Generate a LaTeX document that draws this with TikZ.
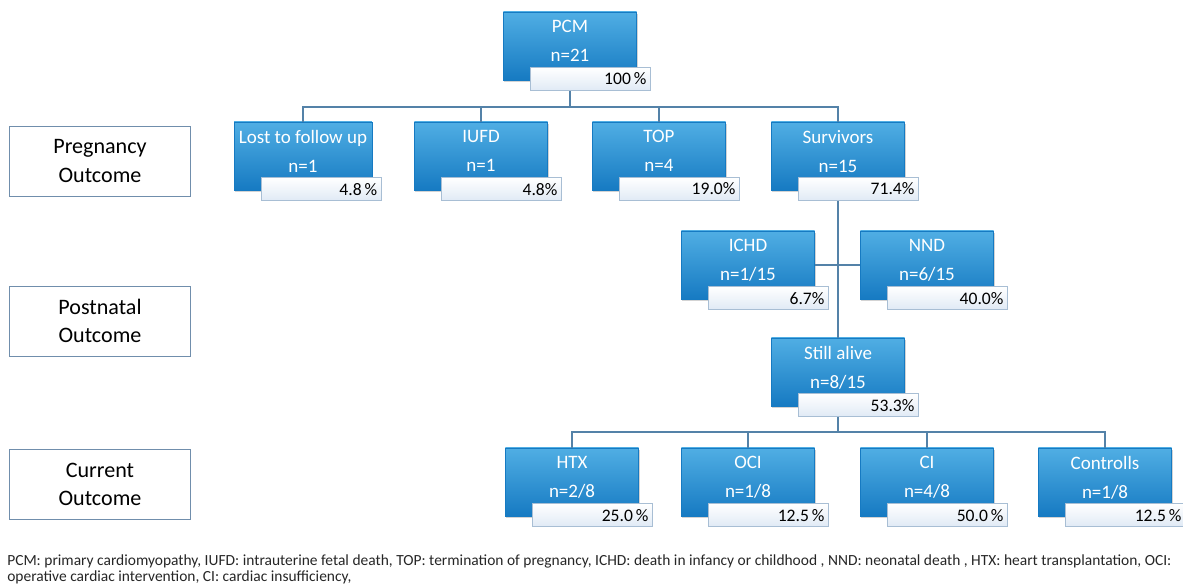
\documentclass[tikz,border=0pt]{standalone}
\usepackage{fontspec}
\setmainfont{Carlito}
\usetikzlibrary{shadows}

\definecolor{boxtop}{RGB}{80,174,228}
\definecolor{boxbot}{RGB}{22,122,194}
\definecolor{linkcol}{RGB}{84,130,168}
\definecolor{pctline}{RGB}{168,190,212}
\definecolor{pctfill}{RGB}{224,234,245}
\definecolor{labline}{RGB}{112,142,172}

\tikzset{
  group/.style={rectangle, minimum width=3.325cm, minimum height=1.7cm,
    top color=boxtop, bottom color=boxbot, draw=boxbot, line width=0.3pt,
    text=white, align=center, font=\fontsize{13.5}{20.5}\selectfont, text depth=7pt,
    drop shadow={opacity=0.35, shadow xshift=0.7pt, shadow yshift=-1.4pt}},
  pct/.style={rectangle, anchor=north west, minimum width=3cm, minimum height=0.575cm,
    inner xsep=3pt, inner ysep=0pt, text width=3cm-6pt, align=right,
    draw=pctline, line width=0.5pt, top color=white, bottom color=pctfill,
    font=\fontsize{12.5}{13}\selectfont},
  stage/.style={rectangle, draw=labline, line width=0.7pt, minimum width=4.5cm,
    minimum height=1.75cm, align=center, font=\fontsize{15.7}{20}\selectfont},
  link/.style={draw=linkcol, line width=0.9pt},
  note/.style={anchor=north west, align=left, inner sep=0pt, text=black!85,
    font=\fontsize{11}{11.4}\selectfont}
}

\begin{document}
\begin{tikzpicture}
\begin{scope}[x=0.025cm,y=-0.025cm]
\useasboundingbox (0,0) rectangle (1183,585);

% stages
\node[stage] (preg) at (100,161) {Pregnancy\\Outcome};
\node[stage] (post) at (100,321) {Postnatal\\Outcome};
\node[stage] (curr) at (100,484) {Current\\Outcome};

% top
\node[group] (pcm) at (570,46) {PCM\\n=21};
\node[pct] (pcm-p) at ([shift={(27,-13)}]pcm.south west) {100\,\%};

% pregnancy outcome
\node[group] (lost) at (303,156) {Lost to follow up\\n=1};
\node[pct] (lost-p) at ([shift={(27,-13)}]lost.south west) {4.8\,\%};
\node[group] (iufd) at (481,156) {IUFD\\n=1};
\node[pct] (iufd-p) at ([shift={(27,-13)}]iufd.south west) {4.8\%};
\node[group] (top) at (659,156) {TOP\\n=4};
\node[pct] (top-p) at ([shift={(27,-13)}]top.south west) {19.0\%};
\node[group] (surv) at (838,156) {Survivors\\n=15};
\node[pct] (surv-p) at ([shift={(27,-13)}]surv.south west) {71.4\%};

% postnatal outcome
\node[group] (ichd) at (748,265) {ICHD\\n=1/15};
\node[pct] (ichd-p) at ([shift={(27,-13)}]ichd.south west) {6.7\%};
\node[group] (nnd) at (927,265) {NND\\n=6/15};
\node[pct] (nnd-p) at ([shift={(27,-13)}]nnd.south west) {40.0\%};
\node[group] (still) at (838,372) {Still alive\\n=8/15};
\node[pct] (still-p) at ([shift={(27,-13)}]still.south west) {53.3\%};

% current outcome
\node[group] (htx) at (572,482) {HTX\\n=2/8};
\node[pct] (htx-p) at ([shift={(27,-13)}]htx.south west) {25.0\,\%};
\node[group] (oci) at (748,482) {OCI\\n=1/8};
\node[pct] (oci-p) at ([shift={(27,-13)}]oci.south west) {12.5\,\%};
\node[group] (ci) at (927,482) {CI\\n=4/8};
\node[pct] (ci-p) at ([shift={(27,-13)}]ci.south west) {50.0\,\%};
\node[group] (ctrl) at (1105,482) {Controlls\\n=1/8};
\node[pct] (ctrl-p) at ([shift={(27,-13)}]ctrl.south west) {12.5\,\%};

% connectors
\coordinate (bus1) at (570,107);
\draw[link] (pcm.south |- pcm-p.south) -- (bus1);
\draw[link] (lost.north) |- (bus1) -| (surv.north);
\draw[link] (iufd.north) -- (iufd.north |- bus1);
\draw[link] (top.north) -- (top.north |- bus1);
\draw[link] (surv.south |- surv-p.south) -- (still.north);
\draw[link] (ichd.east) -- (nnd.west);
\coordinate (bus3) at (838,432);
\draw[link] (still.south |- still-p.south) -- (bus3);
\draw[link] (htx.north) |- (bus3) -| (ctrl.north);
\draw[link] (oci.north) -- (oci.north |- bus3);
\draw[link] (ci.north) -- (ci.north |- bus3);

\node[note] (legend) at (7,554) {PCM: primary cardiomyopathy, IUFD: intrauterine fetal death, TOP: termination of pregnancy, ICHD: death in infancy or childhood , NND: neonatal death , HTX: heart transplantation, OCI:\\
operative cardiac intervention, CI: cardiac insufficiency,};
\end{scope}
\end{tikzpicture}
\end{document}
